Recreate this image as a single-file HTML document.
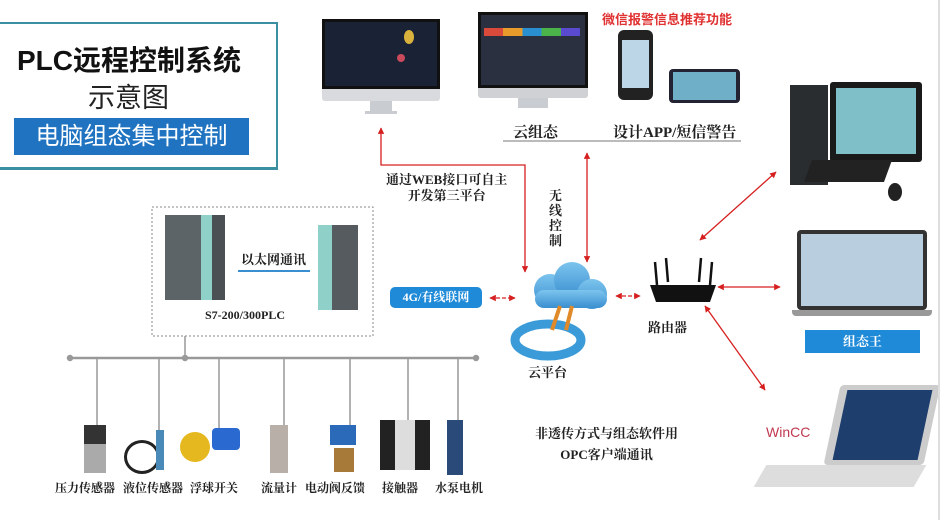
<!DOCTYPE html><html><head><meta charset="utf-8"><style>
body{margin:0;width:943px;height:520px;background:#fff;position:relative;overflow:hidden;font-family:"Liberation Serif","Noto Serif CJK SC",serif;}
.a{position:absolute}
.t{position:absolute;font-weight:bold;color:#222;white-space:nowrap}
.scr{position:absolute;background:#1d2740;border:3px solid #111;}
.st{position:absolute;background:#c9ccd1}
</style></head><body>
<!-- title box -->
<div class="a" style="left:-2px;top:22px;width:276px;height:144px;border:2px solid #3a8fa0;"></div>
<div class="a" style="left:0;top:167px;width:276px;height:2px;background:#3a8fa0"></div>
<div class="t" style="left:17px;top:39px;font:bold 28px 'Liberation Sans','Noto Sans CJK SC',sans-serif;color:#111">PLC远程控制系统</div>
<div class="t" style="left:88px;top:76px;font:27px 'Liberation Sans','Noto Sans CJK SC',sans-serif;color:#222;font-weight:normal">示意图</div>
<div class="a" style="left:14px;top:118px;width:235px;height:37px;background:#1f73c0;color:#fff;font:24px 'Liberation Sans','Noto Sans CJK SC',sans-serif;text-align:center;line-height:37px">电脑组态集中控制</div>
<!-- monitor1 -->
<div class="a" style="left:322px;top:19px;width:118px;height:82px;background:#d8dadd;border-radius:3px"></div>
<div class="scr" style="left:322px;top:19px;width:112px;height:64px;background:#1a2236"></div>
<div class="a" style="left:404px;top:30px;width:10px;height:14px;background:#d8b23c;border-radius:50%"></div>
<div class="a" style="left:397px;top:54px;width:8px;height:8px;background:#c94a5a;border-radius:50%"></div>
<div class="st" style="left:370px;top:101px;width:22px;height:10px"></div>
<div class="st" style="left:365px;top:111px;width:32px;height:3px"></div>
<!-- monitor2 -->
<div class="a" style="left:478px;top:12px;width:110px;height:86px;background:#cfd1d4;border-radius:3px"></div>
<div class="scr" style="left:478px;top:12px;width:104px;height:70px;background:#2a3040"></div>
<div class="a" style="left:484px;top:28px;width:96px;height:8px;background:linear-gradient(90deg,#d94a3a 0 20%,#e89a2a 20% 40%,#2a8fd0 40% 60%,#4ab34a 60% 80%,#5a4ad0 80%)"></div>
<div class="st" style="left:518px;top:98px;width:30px;height:10px"></div>
<!-- phone/tablet -->
<div class="t" style="left:602px;top:9px;font-size:13px;color:#e03030;font-family:'Liberation Sans','Noto Sans CJK SC',sans-serif">微信报警信息推荐功能</div>
<div class="a" style="left:618px;top:30px;width:35px;height:70px;background:#222;border-radius:6px"></div>
<div class="a" style="left:622px;top:40px;width:27px;height:48px;background:#bcd6e8"></div>
<div class="a" style="left:669px;top:69px;width:71px;height:34px;background:#223;border-radius:4px"></div>
<div class="a" style="left:673px;top:72px;width:63px;height:28px;background:#6fb0c8"></div>
<div class="t" style="left:513px;top:121px;font-size:15px">云组态</div>
<div class="t" style="left:613px;top:121px;font-size:15px">设计APP/短信警告</div>
<div class="a" style="left:503px;top:140px;width:238px;height:2px;background:#bbb"></div>
<!-- SVG lines -->
<svg class="a" style="left:0;top:0" width="943" height="520">
<defs><marker id="m" viewBox="0 0 10 10" refX="9" refY="5" markerWidth="5" markerHeight="5" orient="auto-start-reverse"><path d="M0,0L10,5L0,10z" fill="#d62020"/></marker>
<linearGradient id="cg" x1="0" y1="0" x2="0" y2="1"><stop offset="0" stop-color="#7cc4ee"/><stop offset="1" stop-color="#3a8fd0"/></linearGradient></defs>
<g stroke="#d62020" stroke-width="1.3" fill="none">
<path d="M381,128V165H525V272" marker-start="url(#m)" marker-end="url(#m)"/>
<path d="M587,153V262" marker-start="url(#m)" marker-end="url(#m)"/>
<path d="M490,298H515" stroke-dasharray="4 2" marker-start="url(#m)" marker-end="url(#m)"/>
<path d="M616,296H640" stroke-dasharray="4 2" marker-start="url(#m)" marker-end="url(#m)"/>
<path d="M700,240L776,172" marker-start="url(#m)" marker-end="url(#m)"/>
<path d="M718,287H780" marker-start="url(#m)" marker-end="url(#m)"/>
<path d="M705,306L765,390" marker-start="url(#m)" marker-end="url(#m)"/>
</g>
<rect x="152" y="207" width="221" height="129" fill="none" stroke="#888" stroke-dasharray="2 2"/>
<g stroke="#999" stroke-width="1.5" fill="#999">
<line x1="70" y1="358" x2="476" y2="358" stroke-width="2.5"/>
<line x1="185" y1="336" x2="185" y2="358"/>
<line x1="97" y1="358" x2="97" y2="435"/><line x1="159" y1="358" x2="159" y2="435"/>
<line x1="219" y1="358" x2="219" y2="435"/><line x1="284" y1="358" x2="284" y2="435"/>
<line x1="350" y1="358" x2="350" y2="435"/><line x1="408" y1="358" x2="408" y2="435"/>
<line x1="458" y1="358" x2="458" y2="435"/>
<circle cx="70" cy="358" r="2.5"/><circle cx="476" cy="358" r="2.5"/><circle cx="185" cy="358" r="2.5"/>
<circle cx="97" cy="435" r="2"/><circle cx="159" cy="435" r="2"/><circle cx="219" cy="435" r="2"/><circle cx="284" cy="435" r="2"/><circle cx="350" cy="435" r="2"/><circle cx="408" cy="435" r="2"/><circle cx="458" cy="435" r="2"/>
</g>
<!-- cloud -->
<ellipse cx="548" cy="340" rx="33" ry="16" fill="none" stroke="#3a9bd8" stroke-width="9"/>
<g fill="url(#cg)"><circle cx="550" cy="290" r="16"/><circle cx="572" cy="280" r="18"/><circle cx="592" cy="294" r="15"/><rect x="535" y="290" width="72" height="18" rx="9"/></g>
<path d="M560,306L552,330M572,306L566,330" stroke="#e08a2a" stroke-width="4"/>
<!-- router -->
<g stroke="#111" stroke-width="2.5"><line x1="657" y1="285" x2="655" y2="262"/><line x1="668" y1="282" x2="666" y2="258"/><line x1="699" y1="282" x2="701" y2="258"/><line x1="710" y1="285" x2="712" y2="262"/></g>
<path d="M650,285L716,285L710,302L656,302z" fill="#111"/>
</svg>
<div class="t" style="left:386px;top:172px;font-size:13px;line-height:16px;text-align:center">通过WEB接口可自主<br>开发第三平台</div>
<div class="t" style="left:549px;top:188px;font-size:13px;width:14px;line-height:15px;white-space:normal">无线控制</div>
<!-- PLCs -->
<div class="a" style="left:165px;top:215px;width:60px;height:85px;background:linear-gradient(90deg,#5d6468 0 60%,#8fd0c8 60% 78%,#4a5054 78%)"></div>
<div class="a" style="left:318px;top:225px;width:40px;height:85px;background:linear-gradient(90deg,#8fd0c8 0 35%,#555b5f 35%)"></div>
<div class="t" style="left:241px;top:249px;font-size:13px">以太网通讯</div>
<div class="a" style="left:238px;top:270px;width:72px;height:2px;background:#3a8fd0"></div>
<div class="t" style="left:205px;top:308px;font-size:12px">S7-200/300PLC</div>
<div class="a" style="left:390px;top:287px;width:92px;height:21px;background:#1f8ad8;border-radius:5px;color:#fff;font:bold 12px 'Liberation Serif','Noto Serif CJK SC',serif;text-align:center;line-height:21px">4G/有线联网</div>
<div class="t" style="left:528px;top:362px;font-size:13px">云平台</div>
<div class="t" style="left:648px;top:317px;font-size:13px">路由器</div>
<!-- computer -->
<div class="a" style="left:790px;top:85px;width:38px;height:100px;background:#2a2d30"></div>
<div class="a" style="left:830px;top:82px;width:92px;height:80px;background:#1a1a1a;border-radius:3px"></div>
<div class="a" style="left:836px;top:88px;width:80px;height:66px;background:#7fc0c8"></div>
<div class="a" style="left:808px;top:160px;width:80px;height:22px;background:#222;transform:skewX(-20deg)"></div>
<div class="a" style="left:888px;top:183px;width:14px;height:18px;background:#222;border-radius:50%"></div>
<!-- laptop 1 -->
<div class="a" style="left:797px;top:230px;width:130px;height:80px;background:#333;border-radius:4px"></div>
<div class="a" style="left:801px;top:234px;width:122px;height:72px;background:#b9cfe0"></div>
<div class="a" style="left:792px;top:310px;width:140px;height:6px;background:#999;border-radius:0 0 4px 4px"></div>
<div class="a" style="left:805px;top:330px;width:115px;height:23px;background:#1f8ad8;color:#fff;font-weight:bold;font-size:13px;text-align:center;line-height:23px">组态王</div>
<!-- laptop 2 -->
<div class="a" style="left:832px;top:385px;width:100px;height:80px;background:#ccc;transform:skewX(-12deg);border-radius:4px"></div>
<div class="a" style="left:840px;top:390px;width:85px;height:70px;background:#1e3e6e;transform:skewX(-12deg)"></div>
<div class="a" style="left:760px;top:465px;width:160px;height:22px;background:#ddd;transform:skewX(-30deg)"></div>
<div class="a" style="left:766px;top:424px;font:14px 'Liberation Sans',sans-serif;color:#c03a50">WinCC</div>
<div class="t" style="left:535px;top:423px;font-size:13px;line-height:21px;text-align:center">非透传方式与组态软件用<br>OPC客户端通讯</div>
<!-- sensors -->
<div class="a" style="left:84px;top:425px;width:22px;height:48px;background:linear-gradient(#333 0 40%,#aaa 40%)"></div>
<div class="a" style="left:124px;top:440px;width:30px;height:28px;border:3px solid #222;border-radius:50%"></div>
<div class="a" style="left:156px;top:430px;width:8px;height:40px;background:#4a8ab8"></div>
<div class="a" style="left:180px;top:432px;width:30px;height:30px;background:#e6b820;border-radius:50%"></div>
<div class="a" style="left:212px;top:428px;width:28px;height:22px;background:#2a6ad0;border-radius:4px"></div>
<div class="a" style="left:270px;top:425px;width:18px;height:48px;background:#b8b0a8"></div>
<div class="a" style="left:330px;top:425px;width:26px;height:20px;background:#2a6ab8"></div>
<div class="a" style="left:334px;top:448px;width:20px;height:24px;background:#a87a3a"></div>
<div class="a" style="left:380px;top:420px;width:50px;height:50px;background:linear-gradient(90deg,#222 0 30%,#ddd 30% 70%,#222 70%)"></div>
<div class="a" style="left:447px;top:420px;width:16px;height:55px;background:#2a4a7a"></div>
<div class="t" style="left:55px;top:479px;font-size:12px">压力传感器</div>
<div class="t" style="left:123px;top:479px;font-size:12px">液位传感器</div>
<div class="t" style="left:190px;top:479px;font-size:12px">浮球开关</div>
<div class="t" style="left:261px;top:479px;font-size:12px">流量计</div>
<div class="t" style="left:305px;top:479px;font-size:12px">电动阀反馈</div>
<div class="t" style="left:382px;top:479px;font-size:12px">接触器</div>
<div class="t" style="left:435px;top:479px;font-size:12px">水泵电机</div>
<div class="a" style="left:938px;top:0;width:2px;height:520px;background:#ddd"></div>
</body></html>
